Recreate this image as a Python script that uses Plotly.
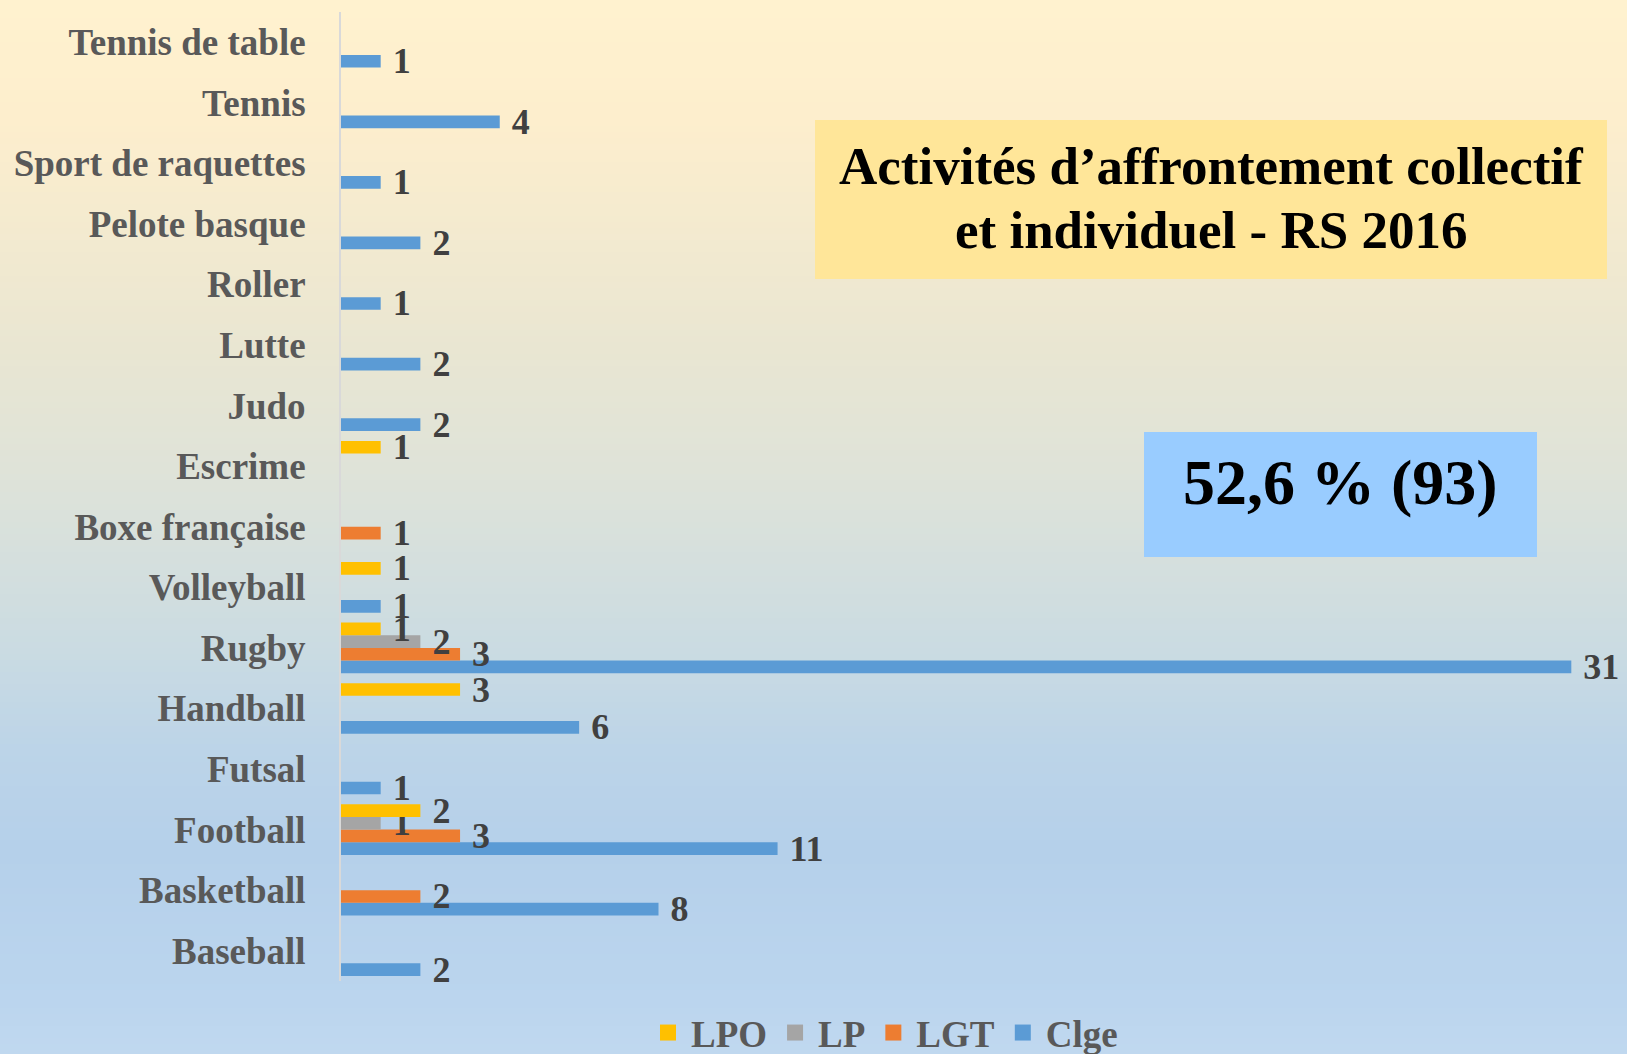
import plotly.graph_objects as go

# categories, bottom to top
sports = ['Baseball', 'Basketball', 'Football', 'Futsal', 'Handball', 'Rugby', 'Volleyball',
          'Boxe française', 'Escrime', 'Judo', 'Lutte', 'Roller', 'Pelote basque',
          'Sport de raquettes', 'Tennis', 'Tennis de table']

clge = [2, 8, 11, 1, 6, 31, 1, None, None, 2, 2, 1, 2, 1, 4, 1]
lgt = [None, 2, 3, None, None, 3, None, 1, None, None, None, None, None, None, None, None]
lp = [None, None, 1, None, None, 2, None, None, None, None, None, None, None, None, None, None]
lpo = [None, None, 2, None, 3, 1, 1, None, 1, None, None, None, None, None, None, None]

series = [('Clge', clge, '#5B9BD5'), ('LGT', lgt, '#ED7D31'),
          ('LP', lp, '#A5A5A5'), ('LPO', lpo, '#FFC000')]

title_lines = ['Activités d’affrontement collectif', 'et individuel - RS 2016']
share_text = '52,6 % (93)'

# page geometry (pixels)
W, H = 1627, 1054
ml, mr, mt, mb = 341, 16, 12, 73
pw, ph = W - ml - mr, H - mt - mb


def px_x(px):
    return (px - ml) / pw


def px_y(py):
    return (H - mb - py) / ph


FONT = 'Liberation Serif'

fig = go.Figure()
for name, vals, col in series:
    fig.add_trace(go.Bar(
        y=sports, x=vals, name=name, orientation='h', showlegend=False,
        marker=dict(color=col, line=dict(width=0)),
        texttemplate='\u00a0%{x}', textposition='outside',
        textfont=dict(family=FONT, size=36, color='#404040', weight='bold'),
        constraintext='none', cliponaxis=False, hoverinfo='x+name'
    ))
# legend entries with bigger square keys
for name, vals, col in series:
    fig.add_trace(go.Scatter(
        x=[None], y=[None], mode='markers', name=name,
        marker=dict(symbol='square', size=16, color=col), hoverinfo='skip'
    ))

# vertical gradient background, yellow at top to blue at bottom
stops = [(0, (255, 242, 207)), (120, (253, 238, 205)), (350, (233, 230, 210)),
         (500, (220, 226, 218)), (650, (202, 219, 226)), (750, (188, 212, 232)),
         (850, (181, 208, 234)), (1000, (187, 213, 238)), (1054, (192, 216, 239))]


def grad(py):
    for (y0, c0), (y1, c1) in zip(stops[:-1], stops[1:]):
        if y0 <= py <= y1:
            t = (py - y0) / (y1 - y0)
            return 'rgb(%d,%d,%d)' % tuple(round(a + (b - a) * t) for a, b in zip(c0, c1))
    return 'rgb(%d,%d,%d)' % stops[-1][1]


shapes = []
step = 6
for py in range(0, H, step):
    shapes.append(dict(type='rect', xref='paper', yref='paper', layer='below',
                       x0=px_x(0), x1=px_x(W), y0=px_y(py + step + 1), y1=px_y(py),
                       fillcolor=grad(py + step / 2), line=dict(width=0)))

# title box and share box
shapes.append(dict(type='rect', xref='paper', yref='paper', layer='above',
                   x0=px_x(815), x1=px_x(1607), y0=px_y(279), y1=px_y(120),
                   fillcolor='#FFE699', line=dict(width=0)))
shapes.append(dict(type='rect', xref='paper', yref='paper', layer='above',
                   x0=px_x(1144), x1=px_x(1537), y0=px_y(557), y1=px_y(432),
                   fillcolor='#99CCFF', line=dict(width=0)))

annotations = []
for line, ypx in zip(title_lines, [166, 230]):
    annotations.append(dict(text=line, xref='paper', yref='paper', x=px_x(1211), y=px_y(ypx),
                            xanchor='center', yanchor='middle', showarrow=False,
                            font=dict(family=FONT, size=53, color='black', weight='bold')))
annotations.append(dict(text=share_text, xref='paper', yref='paper', x=px_x(1340.5), y=px_y(483),
                        xanchor='center', yanchor='middle', showarrow=False,
                        font=dict(family=FONT, size=64, color='black', weight='bold')))

fig.update_layout(
    width=W, height=H,
    margin=dict(l=ml, r=mr, t=mt, b=mb, autoexpand=False),
    paper_bgcolor='rgb(214,224,222)',
    plot_bgcolor='rgba(0,0,0,0)',
    barmode='group', bargap=0.165, bargroupgap=0,
    font=dict(family=FONT, size=37, color='#595959', weight='bold'),
    shapes=shapes,
    annotations=annotations,
    xaxis=dict(range=[0, 32], showticklabels=False, showgrid=False, zeroline=False,
               showline=False, fixedrange=True),
    yaxis=dict(type='category', categoryorder='array', categoryarray=sports,
               showgrid=False, zeroline=False, showline=True, linecolor='#D9D9D9',
               linewidth=2, ticks='', ticklabelstandoff=26, automargin=False,
               tickfont=dict(family=FONT, size=37, color='#595959', weight='bold')),
    legend=dict(orientation='h', traceorder='reversed', x=px_x(884), xanchor='center',
                y=px_y(1033), yanchor='middle', bgcolor='rgba(0,0,0,0)', itemwidth=36,
                font=dict(family=FONT, size=37, color='#595959', weight='bold')),
    showlegend=True,
)

fig.write_html('out.html', config={'displayModeBar': False},
               post_script="document.body.style.margin='0';document.body.style.overflow='hidden';")
